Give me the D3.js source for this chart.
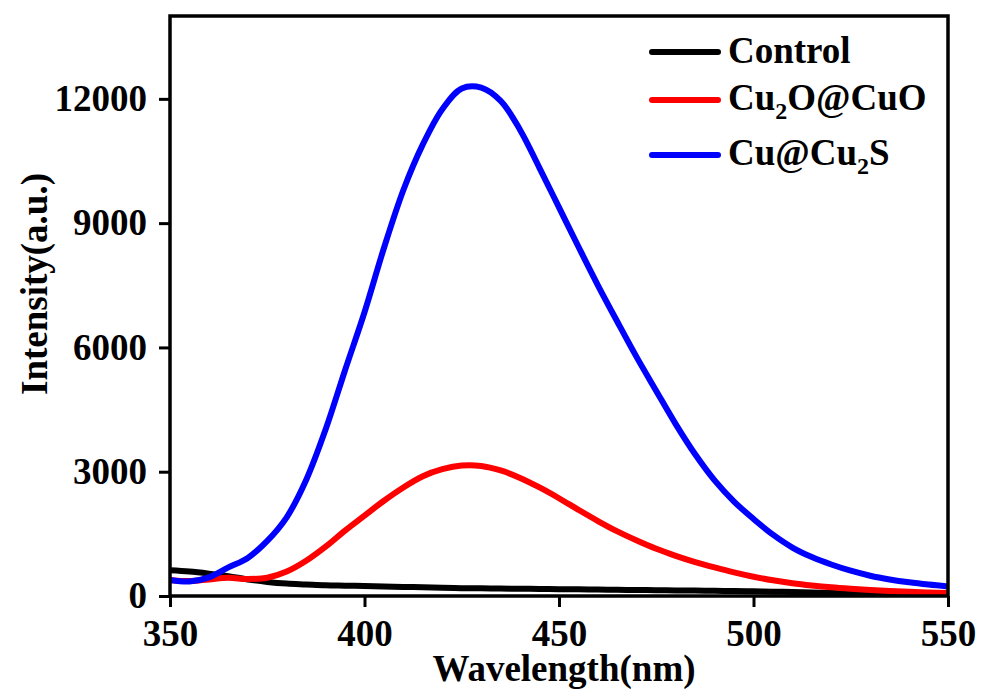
<!DOCTYPE html>
<html>
<head>
<meta charset="utf-8">
<script src="https://cdn.jsdelivr.net/npm/d3@7"></script>
<style>
  body { margin: 0; background: #fff; }
  svg { font-family: "Times New Roman", "Liberation Serif", serif; font-weight: bold; }
</style>
</head>
<body>
<svg id="chart" width="981" height="691"></svg>
<script>
// wavelength grid (nm), every 5 nm
var wavelengths = d3.range(350, 551, 5);

// Control
var controlValues = [620, 590, 540, 480, 400, 340, 300, 280, 260, 250,
  240, 230, 220, 210, 200, 190, 185, 180, 175, 170,
  165, 160, 155, 150, 145, 140, 135, 130, 125, 120,
  115, 105, 95, 85, 75, 65, 60, 55, 50, 45, 40];

// Cu2O@CuO
var cu2oValues = [380, 360, 400, 440, 410, 440, 590, 850, 1190, 1580,
  1940, 2300, 2620, 2890, 3060, 3150, 3140, 3030, 2850, 2620,
  2360, 2080, 1810, 1560, 1340, 1140, 970, 820, 690, 570,
  465, 380, 310, 255, 210, 175, 145, 120, 100, 85, 75];

// Cu@Cu2S
var cuValues = [390, 350, 450, 690, 920, 1330, 1900, 2800, 4020, 5450,
  6850, 8400, 9800, 10900, 11750, 12250, 12270, 11950, 11250, 10330,
  9380, 8430, 7500, 6620, 5760, 4950, 4150, 3420, 2790, 2280,
  1860, 1480, 1170, 940, 760, 610, 490, 400, 330, 275, 230];

var seriesNames = ["Control", "Cu2O@CuO", "Cu@Cu2S"];
var seriesColors = ["#000000", "#ff0000", "#0000ff"];
var xTicks = [350, 400, 450, 500, 550];
var yTicks = [0, 3000, 6000, 9000, 12000];

(function () {
  var svg = d3.select("#chart");
  var plotLeft = 170, plotRight = 948, plotTop = 16, plotBottom = 596;

  var x = d3.scaleLinear().domain([350, 550]).range([plotLeft, plotRight]);
  var y = d3.scaleLinear().domain([0, 14000]).range([plotBottom, plotTop]);

  svg.append("rect").attr("width", 981).attr("height", 691).attr("fill", "#fff");

  // curves, drawn black -> red -> blue so blue sits on top
  var allSeries = [controlValues, cu2oValues, cuValues];
  var line = d3.line()
    .x(function (d, i) { return x(wavelengths[i]); })
    .y(function (d) { return y(d); })
    .curve(d3.curveCatmullRom.alpha(0.5));

  svg.append("defs").append("clipPath").attr("id", "plotclip")
    .append("rect").attr("x", plotLeft).attr("y", plotTop)
    .attr("width", plotRight - plotLeft).attr("height", plotBottom - plotTop);

  svg.append("g")
    .attr("clip-path", "url(#plotclip)")
    .selectAll("path")
    .data(allSeries)
    .join("path")
      .attr("d", line)
      .attr("fill", "none")
      .attr("stroke", function (d, i) { return seriesColors[i]; })
      .attr("stroke-width", 6)
      .attr("stroke-linejoin", "round");

  // axes
  var xAxis = svg.append("g")
    .attr("transform", "translate(0," + plotBottom + ")")
    .call(d3.axisBottom(x).tickValues(xTicks).tickSize(11).tickSizeOuter(0).tickPadding(13));
  var yAxis = svg.append("g")
    .attr("transform", "translate(" + plotLeft + ",0)")
    .call(d3.axisLeft(y).tickValues(yTicks).tickSize(11).tickSizeOuter(0).tickPadding(12).tickFormat(d3.format("d")));

  [xAxis, yAxis].forEach(function (g) {
    g.select(".domain").remove();
    g.selectAll(".tick line").attr("stroke", "#000").attr("stroke-width", 3);
    g.selectAll(".tick text")
      .attr("fill", "#000")
      .style("font-size", "37px")
      .style("font-family", "'Times New Roman', 'Liberation Serif', serif")
      .style("font-weight", "bold");
  });

  // frame
  svg.append("rect")
    .attr("x", plotLeft).attr("y", plotTop)
    .attr("width", plotRight - plotLeft).attr("height", plotBottom - plotTop)
    .attr("fill", "none").attr("stroke", "#000").attr("stroke-width", 3.5);

  // axis titles
  svg.append("text")
    .attr("x", 564).attr("y", 681)
    .attr("text-anchor", "middle")
    .style("font-size", "37px")
    .text("Wavelength(nm)");

  svg.append("text")
    .attr("transform", "translate(47,284)rotate(-90)")
    .attr("text-anchor", "middle")
    .style("font-size", "37px")
    .text("Intensity(a.u.)");

  // legend
  var legendRows = [
    { parts: [["Control", false]], lineY: 52, baseY: 63 },
    { parts: [["Cu", false], ["2", true], ["O@CuO", false]], lineY: 100, baseY: 110 },
    { parts: [["Cu@Cu", false], ["2", true], ["S", false]], lineY: 155, baseY: 165 }
  ];

  var legend = svg.append("g");
  legendRows.forEach(function (row, i) {
    legend.append("line")
      .attr("x1", 652).attr("x2", 718)
      .attr("y1", row.lineY).attr("y2", row.lineY)
      .attr("stroke", seriesColors[i])
      .attr("stroke-width", 6)
      .attr("stroke-linecap", "round");
    var t = legend.append("text")
      .attr("x", 728).attr("y", row.baseY)
      .style("font-size", "37px");
    var shifted = false;
    row.parts.forEach(function (p) {
      var ts = t.append("tspan").text(p[0]);
      if (p[1]) {
        ts.style("font-size", "24px").attr("dy", 9);
        shifted = true;
      } else if (shifted) {
        ts.attr("dy", -9);
        shifted = false;
      }
    });
  });
})();
</script>
</body>
</html>
